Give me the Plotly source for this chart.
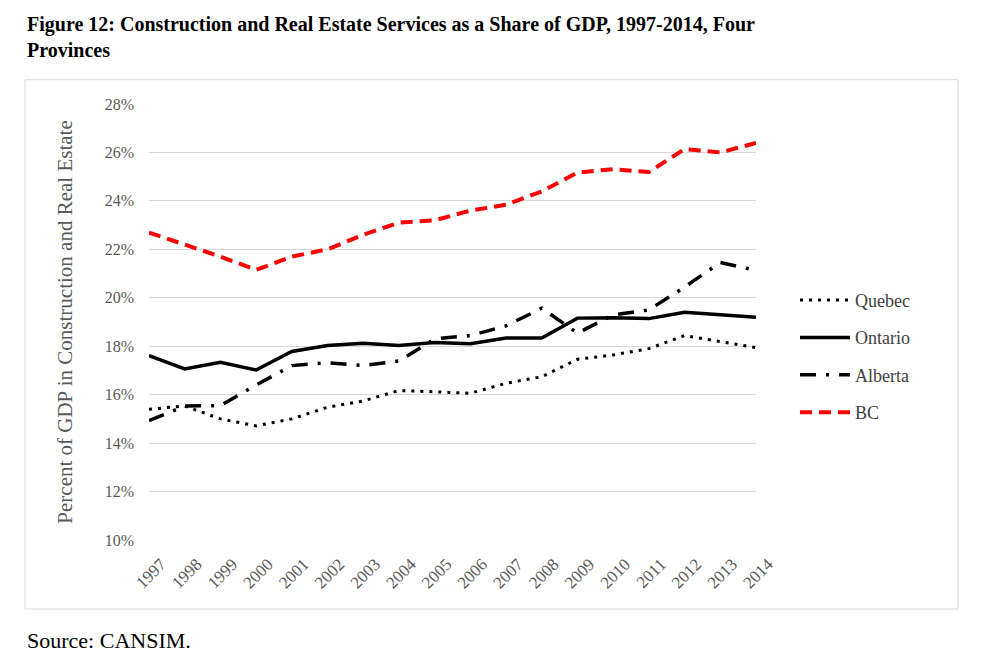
import plotly.graph_objects as go

years = [str(y) for y in range(1997, 2015)]

quebec = [15.40, 15.53, 15.00, 14.71, 15.00, 15.48, 15.74, 16.17, 16.12, 16.06,
          16.47, 16.74, 17.46, 17.64, 17.90, 18.44, 18.19, 17.94]
ontario = [17.61, 17.06, 17.34, 17.02, 17.78, 18.03, 18.12, 18.03, 18.15, 18.10,
           18.34, 18.34, 19.16, 19.18, 19.14, 19.40, 19.30, 19.20]
alberta = [14.93, 15.53, 15.55, 16.40, 17.20, 17.32, 17.20, 17.39, 18.30, 18.44,
           18.84, 19.57, 18.54, 19.29, 19.50, 20.44, 21.46, 21.13]
bc = [22.69, 22.20, 21.70, 21.15, 21.70, 22.00, 22.60, 23.10, 23.20, 23.60,
      23.84, 24.39, 25.17, 25.31, 25.19, 26.14, 26.00, 26.39]

ytick_vals = [10, 12, 14, 16, 18, 20, 22, 24, 26, 28]
ytick_text = [f"{v}%" for v in ytick_vals]

serif = "Liberation Serif"

# the page body adds 8px around the figure, so the figure is 8px smaller
# and plot area pixels below are page pixels
PW, PH = 607, 435.7
def px_x(x):
    return (x - 149) / PW
def px_y(y):
    return (540 - y) / PH

fig = go.Figure()
fig.add_trace(go.Scatter(x=years, y=quebec, name="Quebec", mode="lines", legendgroup="q",
                         line=dict(color="black", width=3, dash="3px,6px")))
fig.add_trace(go.Scatter(x=years, y=ontario, name="Ontario", mode="lines", legendgroup="o",
                         line=dict(color="black", width=3.5)))
fig.add_trace(go.Scatter(x=years, y=alberta, name="Alberta", mode="lines", legendgroup="a",
                         line=dict(color="black", width=3.5, dash="16px,10px,3px,10px")))
fig.add_trace(go.Scatter(x=years, y=bc, name="BC", mode="lines", legendgroup="b",
                         line=dict(color="#ff0000", width=4, dash="12px,7px")))

fig.update_layout(
    width=977, height=655,
    paper_bgcolor="white", plot_bgcolor="white",
    margin=dict(l=141, r=229, t=96, b=123),
    font=dict(family=serif, color="#595959"),
    xaxis=dict(type="category", tickangle=-45, showgrid=False, showline=False,
               ticks="", ticklabelstandoff=10, ticklabelshift=12,
               tickfont=dict(size=17, color="#595959")),
    yaxis=dict(range=[10, 28], tickvals=ytick_vals, ticktext=ytick_text,
               showgrid=True, gridcolor="#d9d9d9", gridwidth=1, zeroline=False,
               showline=False, ticks="", ticklabelstandoff=14,
               tickfont=dict(size=16, color="#595959"),
               title=dict(text="Percent of GDP in Construction and Real Estate",
                          font=dict(size=21, color="#595959"), standoff=26)),
    legend=dict(x=px_x(795), xanchor="left", y=px_y(282), yanchor="top",
                font=dict(family=serif, size=18, color="#404040"),
                tracegroupgap=11, itemwidth=50, bgcolor="rgba(0,0,0,0)"),
    shapes=[dict(type="rect", xref="paper", yref="paper",
                 x0=px_x(25), x1=px_x(958), y0=px_y(609), y1=px_y(80),
                 line=dict(color="#d9d9d9", width=1), layer="below")],
    annotations=[
        dict(text="<b>Figure 12: Construction and Real Estate Services as a Share of GDP, 1997-2014, Four<br>Provinces</b>",
             xref="paper", yref="paper", x=px_x(25), xanchor="left", align="left",
             y=px_y(11), yanchor="top", showarrow=False,
             font=dict(family=serif, size=20, color="black")),
        dict(text="Source: CANSIM.", xref="paper", yref="paper",
             x=px_x(25), xanchor="left", y=px_y(640), yanchor="middle", showarrow=False,
             font=dict(family=serif, size=22, color="black")),
    ],
)

fig.write_html("out.html")
